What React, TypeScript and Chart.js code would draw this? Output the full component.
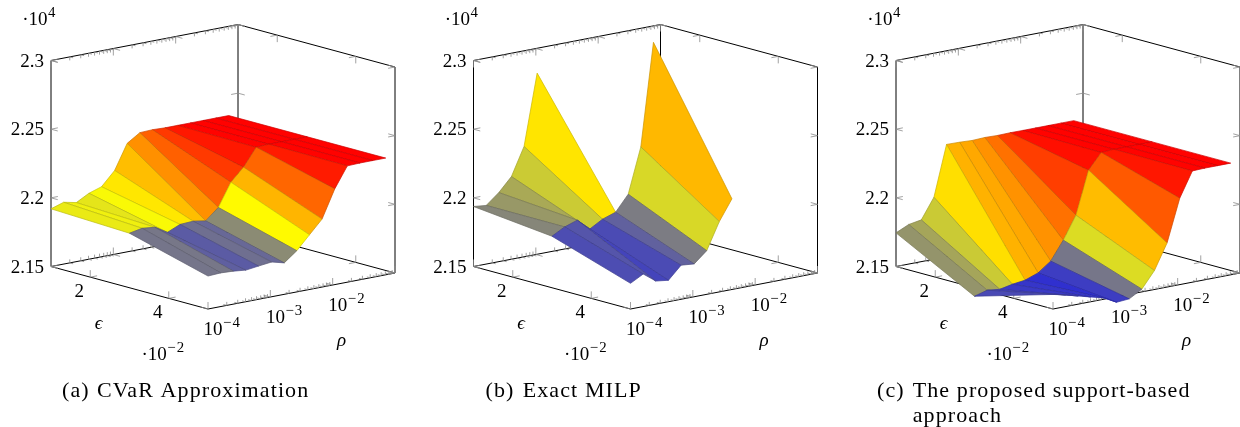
import React, { useEffect, useRef } from "react";
import { Chart, registerables } from "chart.js";

Chart.register(...registerables);

// ---- data (cost in units of 10^4, epsilon in units of 10^-2) ----
const epsValues = [1, 3, 5];
const rhoValues = [1e-4, 1.6e-4, 2.55e-4, 4.06e-4, 6.47e-4, 1.05e-3, 1.67e-3, 2.66e-3, 4.24e-3, 6.76e-3, 1.08e-2, 1.72e-2, 2.75e-2, 4.4e-2, 7.1e-2];
const cvarEps1 = [2.192, 2.195, 2.193, 2.198, 2.201, 2.211, 2.229, 2.235, 2.2354, 2.235, 2.235, 2.235, 2.235, 2.235, 2.235];
const cvarEps3 = [2.1897, 2.1915, 2.1905, 2.185, 2.189, 2.1895, 2.188, 2.196, 2.2126, 2.2218, 2.2345, 2.235, 2.235, 2.235, 2.235];
const cvarEps5 = [2.174, 2.1745, 2.174, 2.173, 2.1742, 2.1753, 2.1729, 2.18, 2.1898, 2.1995, 2.2197, 2.2347, 2.235, 2.235, 2.235];
const milpEps1 = [2.1937, 2.1927, 2.2003, 2.2102, 2.2303, 2.2819, null, null, null, null, null, null, null, null, null];
const milpEps3 = [2.1875, 2.1925, 2.1956, 2.1875, 2.1928, 2.1961, 2.2074, 2.2401, 2.3145, null, null, null, null, null, null];
const milpEps5 = [2.1687, 2.1737, 2.1668, 2.1656, 2.1748, 2.1739, 2.1818, 2.2012, 2.216, null, null, null, null, null, null];
const suppEps1 = [2.1745, 2.1788, 2.1804, 2.1951, 2.2318, 2.2316, 2.2311, 2.2315, 2.2312, 2.2314, 2.2313, 2.2313, 2.2313, 2.2313, 2.2313];
const suppEps3 = [2.1438, 2.1464, 2.1453, 2.1472, 2.1484, 2.1519, 2.1587, 2.1722, 2.1886, 2.2196, 2.2307, 2.2313, 2.2313, 2.2313, 2.2313];
const suppEps5 = [2.1606, 2.1584, 2.1559, 2.1534, 2.151, 2.146, 2.1467, 2.152, 2.1638, 2.1821, 2.2129, 2.231, 2.2313, 2.2313, 2.2313];

const zTicks = [2.15, 2.2, 2.25, 2.3];
const zTickLabels = ["2.15", "2.2", "2.25", "2.3"];
const epsTicks = [2, 4];
const epsTickLabels = ["2", "4"];
const rhoTickExps = [-4, -3, -2, -1];
const rhoTickLabels = ["\u22124", "\u22123", "\u22122"];
const rhoMinorMultipliers = [2, 3, 4, 5, 6, 7, 8, 9];
const colormap = [[0, 0, 255], [255, 255, 0], [255, 128, 0], [255, 0, 0]];

const captionLines = [
  [{ t: "(a)", x: 62, y: 397 }, { t: "CVaR Approximation", x: 97, y: 397 }],
  [{ t: "(b)", x: 63.5, y: 397 }, { t: "Exact MILP", x: 100.7, y: 397 }],
  [{ t: "(c)", x: 32, y: 397 }, { t: "The proposed support-based", x: 67.7, y: 397 }, { t: "approach", x: 67.7, y: 421.5 }],
];

const panels = [
  { left: 0, width: 410, lx: 51, rows: [cvarEps1, cvarEps3, cvarEps5], captions: captionLines[0] },
  { left: 422, width: 410, lx: 51.5, rows: [milpEps1, milpEps3, milpEps5], captions: captionLines[1] },
  { left: 845, width: 395, lx: 51, rows: [suppEps1, suppEps3, suppEps5], captions: captionLines[2] },
];

// ---- projection ----
const H = 427;
const Y0 = 266.5;
const EX = [157, 42.5];
const ER = [187, -36];
const EZ = -206;
const FONT = '"Liberation Serif"';
// A dash longer than any path keeps lines solid and every vertex exact.
const SOLID = [100000];

function makeProjection(lx: number) {
  return (eps: number, rho: number, z: number) => {
    const t = (eps - 1) / 4;
    const r = (Math.log10(rho) + 4) / 3;
    const u = (z - 2.15) / 0.15;
    return { x: lx + t * EX[0] + r * ER[0], y: Y0 + t * EX[1] + r * ER[1] + u * EZ };
  };
}

function mapColor(v: number, lo: number, hi: number) {
  const p = Math.min(0.99999, Math.max(0, (v - lo) / (hi - lo))) * (colormap.length - 1);
  const k = Math.floor(p);
  const f = p - k;
  return colormap[k].map((c, n) => c + (colormap[k + 1][n] - c) * f);
}
const css = (c: number[], s = 1) => `rgb(${c.map((v) => Math.round(v * s)).join(",")})`;

function unit(v: number[]) {
  const l = Math.hypot(v[0], v[1]);
  return [v[0] / l, v[1] / l];
}

function buildTicks(P: any) {
  const out: any[] = [];
  const gap = { x: NaN, y: NaN };
  const eDir = unit(EX);
  const rDir = unit(ER);
  const add = (p: any, d: number[], len: number) => {
    out.push({ x: p.x, y: p.y }, { x: p.x + d[0] * len, y: p.y + d[1] * len }, gap);
  };
  const neg = (d: number[]) => [-d[0], -d[1]];
  const up = [0, -1];
  const down = [0, 1];
  const rhoTick = (rho: number, len: number) => {
    add(P(1, rho, 2.3), down, len);
    add(P(1, rho, 2.3), eDir, len);
    add(P(1, rho, 2.15), up, len);
    add(P(1, rho, 2.15), eDir, len);
    add(P(5, rho, 2.15), up, len);
    add(P(5, rho, 2.15), neg(eDir), len);
  };
  rhoTickExps.forEach((e, n) => {
    const base = Math.pow(10, e);
    rhoTick(base, 7);
    if (n < rhoTickExps.length - 1) rhoMinorMultipliers.forEach((m) => rhoTick(base * m, 3.5));
  });
  epsTicks.forEach((eps) => {
    add(P(eps, 1e-4, 2.15), up, 7);
    add(P(eps, 1e-4, 2.15), rDir, 7);
    add(P(eps, 1e-1, 2.3), down, 7);
    add(P(eps, 1e-1, 2.3), neg(rDir), 7);
    add(P(eps, 1e-1, 2.15), up, 7);
    add(P(eps, 1e-1, 2.15), neg(rDir), 7);
  });
  zTicks.forEach((z) => {
    add(P(1, 1e-4, z), eDir, 7);
    add(P(1, 1e-4, z), rDir, 7);
    add(P(1, 1e-1, z), eDir, 7);
    add(P(1, 1e-1, z), neg(rDir), 7);
    add(P(5, 1e-1, z), neg(eDir), 7);
    add(P(5, 1e-1, z), neg(rDir), 7);
  });
  return out;
}

function buildBox(P: any) {
  const gap = { x: NaN, y: NaN };
  const a = (e: number, r: number, z: number) => P(e, r, z);
  return [
    a(1, 1e-4, 2.15), a(1, 1e-4, 2.3), a(1, 1e-1, 2.3), a(5, 1e-1, 2.3), a(5, 1e-1, 2.15), gap,
    a(1, 1e-1, 2.3), a(1, 1e-1, 2.15), gap,
    a(1, 1e-4, 2.15), a(5, 1e-4, 2.15), a(5, 1e-1, 2.15), gap,
    a(1, 1e-4, 2.15), a(1, 1e-1, 2.15), a(5, 1e-1, 2.15),
  ];
}

function buildSurface(P: any, rows: (number | null)[][]) {
  const all = rows.flat().filter((v) => v !== null) as number[];
  const lo = Math.min(...all);
  const hi = Math.max(...all);
  const sets: any[] = [];
  for (let j = 0; j < epsValues.length - 1; j++) {
    for (let i = rhoValues.length - 2; i >= 0; i--) {
      const v = [rows[j][i], rows[j][i + 1], rows[j + 1][i + 1], rows[j + 1][i]];
      if (v.some((q) => q === null)) continue;
      const mean = (v as number[]).reduce((s, q) => s + q, 0) / 4;
      const c = mapColor(mean, lo, hi);
      const pts = [
        P(epsValues[j], rhoValues[i], v[0]),
        P(epsValues[j], rhoValues[i + 1], v[1]),
        P(epsValues[j + 1], rhoValues[i + 1], v[2]),
        P(epsValues[j + 1], rhoValues[i], v[3]),
      ];
      pts.push({ ...pts[0] });
      sets.push({
        data: pts,
        showLine: true,
        fill: "shape",
        backgroundColor: css(c),
        borderColor: css(c, 0.8),
        borderWidth: 0.7,
        borderJoinStyle: "round",
        borderDash: SOLID,
        pointRadius: 0,
        tension: 0,
      });
    }
  }
  return sets;
}

// ---- text ----
function drawPower(ctx: any, base: string, sup: string, cx: number, y: number, size: number) {
  const supSize = size * 0.78;
  ctx.letterSpacing = "0px";
  ctx.font = `${size}px ${FONT}`;
  const bw = ctx.measureText(base).width;
  ctx.font = `${supSize}px ${FONT}`;
  ctx.letterSpacing = "1px";
  const sw = ctx.measureText(sup).width;
  const x = cx - (bw + sw) / 2;
  ctx.textAlign = "left";
  ctx.letterSpacing = "0px";
  ctx.font = `${size}px ${FONT}`;
  ctx.fillText(base, x, y);
  ctx.font = `${supSize}px ${FONT}`;
  ctx.letterSpacing = "1px";
  ctx.fillText(sup, x + bw + 0.5, y - size * 0.4);
  ctx.letterSpacing = "0px";
}

function labelPlugin(panel: any, P: any) {
  return {
    id: "labels",
    afterDraw(chart: any) {
      const ctx = chart.ctx;
      const dx = panel.lx - 51;
      ctx.save();
      ctx.fillStyle = "#000";
      ctx.textBaseline = "alphabetic";
      ctx.font = `19px ${FONT}`;
      ctx.textAlign = "right";
      zTicks.forEach((z, n) => {
        ctx.fillText(zTickLabels[n], panel.lx - 7, P(1, 1e-4, z).y + 6);
      });
      ctx.textAlign = "center";
      epsTicks.forEach((e, n) => {
        const p = P(e, 1e-4, 2.15);
        ctx.fillText(epsTickLabels[n], p.x - 11, p.y + 19.5);
      });
      rhoTickLabels.forEach((lab, n) => {
        const p = P(5, Math.pow(10, rhoTickExps[n]), 2.15);
        drawPower(ctx, "10", lab, p.x + 14, p.y + 26, 19);
      });
      drawPower(ctx, "\u00b710", "4", 39 + dx, 25, 19);
      drawPower(ctx, "\u00b710", "\u22122", 163 + dx, 360, 19);
      ctx.textAlign = "center";
      ctx.font = `italic 19px ${FONT}`;
      ctx.fillText("\u03f5", 98.5 + dx, 329);
      ctx.fillText("\u03c1", 341.5 + dx, 346);
      ctx.textAlign = "left";
      ctx.font = `22px ${FONT}`;
      ctx.letterSpacing = "1.1px";
      panel.captions.forEach((c: any) => ctx.fillText(c.t, c.x, c.y));
      ctx.restore();
    },
  };
}

function Panel({ panel }: { panel: any }) {
  const ref = useRef<HTMLCanvasElement>(null);
  useEffect(() => {
    const P = makeProjection(panel.lx);
    const paintOrder = [
      { data: buildBox(P), showLine: true, borderColor: "#000", borderWidth: 1, borderDash: SOLID, pointRadius: 0, fill: false, tension: 0 },
      { data: buildTicks(P), showLine: true, borderColor: "#8a8a8a", borderWidth: 0.8, borderDash: SOLID, pointRadius: 0, fill: false, tension: 0 },
      ...buildSurface(P, panel.rows),
    ];
    const chart = new Chart(ref.current as any, {
      type: "scatter",
      data: { datasets: paintOrder.reverse() },
      options: {
        responsive: false,
        animation: false,
        layout: { padding: 0 },
        events: [],
        scales: {
          x: { type: "linear", display: false, min: 0, max: panel.width },
          y: { type: "linear", display: false, min: 0, max: H, reverse: true },
        },
        plugins: { legend: { display: false }, tooltip: { enabled: false }, title: { display: false } },
      },
      plugins: [labelPlugin(panel, P)],
    } as any);
    return () => chart.destroy();
  }, [panel]);
  return (
    <canvas
      ref={ref}
      width={panel.width}
      height={H}
      style={{ position: "absolute", left: panel.left, top: 0, width: panel.width, height: H, display: "block" }}
    />
  );
}

export default function App() {
  return (
    <div style={{ position: "absolute", left: 0, top: 0, width: 1240, height: H, overflow: "hidden", background: "#fff" }}>
      {panels.map((p, n) => (
        <Panel key={n} panel={p} />
      ))}
    </div>
  );
}
